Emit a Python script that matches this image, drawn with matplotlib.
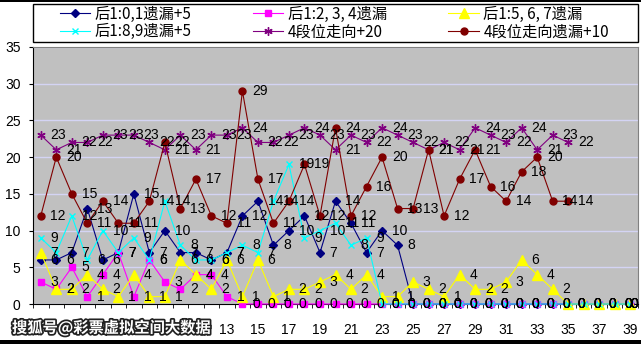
import matplotlib
matplotlib.use('Agg')
import matplotlib.pyplot as plt
import matplotlib.patches as mpatches
import matplotlib.patheffects as pe
import numpy as np

plt.rcParams['font.family'] = ['Liberation Sans', 'Noto Sans CJK SC', 'DejaVu Sans']

# periods 1..39 (labels 1-11 are hidden under the watermark)
periods = list(range(1, 40))
tick_pos = list(range(13, 40, 2))
tick_labels = [str(p) for p in tick_pos]

# series values
s_01 = [6, 6, 7, 13, 6, 7, 15, 7, 10, 7, 7, 6, 7, 12, 14, 8, 10, 12, 7, 14,
        11, 7, 10, 8] + [0] * 15
s_234 = [3, 2, 5, 1, 4, 7, 1, 6, 3, 2, 4, 4, 1] + [0] * 26
s_567 = [7, 2, 2, 4, 2, 1, 4, 1, 1, 6, 4, 2, 6, 1, 6, 1, 2, 2, 3, 4,
         2, 4, 1, 1, 3, 2, 1, 4, 2, 2, 3, 6, 4, 2] + [0] * 5
s_89 = [9, 7, 12, 6, 10, 7, 9, 6, 14, 8, 6, 6, 7, 8, 7, 14, 19, 9, 10, 11,
        8, 9] + [0] * 17
s_dir = [23, 21, 22, 22, 23, 23, 23, 22, 21, 23, 21, 23, 23, 24, 22, 22, 23, 24,
         23, 21, 23, 22, 24, 23, 22, 21, 22, 21, 24, 23, 22, 24, 21, 23, 22]
s_dir_miss = [12, 20, 15, 11, 14, 11, 11, 14, 22, 13, 17, 12, 11, 29, 17, 11, 14,
              19, 12, 24, 12, 16, 20, 13, 13, 21, 12, 17, 21, 16, 14, 18, 20, 14, 14]

names = ['后1:0,1遗漏+5', '后1:2, 3, 4遗漏', '后1:5, 6, 7遗漏',
         '后1:8,9遗漏+5', '4段位走向+20', '4段位走向遗漏+10']

fig = plt.figure(figsize=(6.41, 3.44), dpi=100)
ax = fig.add_axes([33 / 641, 40 / 344, 605 / 641, 257 / 344])
ax.set_facecolor('#c0c0c0')

styles = [
    dict(color='#000080', marker='D', ms=4.5),
    dict(color='#ff00ff', marker='s', ms=5),
    dict(color='#ffff00', marker='^', ms=6.5),
    dict(color='#00ffff', marker='x', ms=5, mew=1),
    dict(color='#800080', marker=(6, 2, 0), ms=6, mew=1),
    dict(color='#800000', marker='o', ms=5),
]
all_series = [s_01, s_234, s_567, s_89, s_dir, s_dir_miss]

handles = []
for vals, st in zip(all_series, styles):
    x = periods[:len(vals)]
    h, = ax.plot(x, vals, lw=0.8, clip_on=False, zorder=3, **st)
    handles.append(h)

# data labels to the right of each point (last one pulled inside the chart)
for vals in all_series:
    for xi, v in zip(periods, vals):
        dx = 0 if xi == periods[-1] else 7
        ax.annotate(str(v), (xi, v), xytext=(dx, 0), textcoords='offset points',
                    ha='left', va='center', fontsize=10, color='black', zorder=5,
                    annotation_clip=False)

ax.set_xlim(0.5, 39.5)
ax.set_ylim(0, 35)
ax.set_yticks(np.arange(0, 36, 5))
ax.yaxis.grid(True, color='#d4d4f4', lw=1)
ax.set_axisbelow(True)
ax.set_xticks(tick_pos)
ax.set_xticklabels(tick_labels)
ax.set_xticks(np.arange(0.5, 40, 1), minor=True)
ax.tick_params(axis='x', which='major', length=0, pad=14, labelsize=10)
ax.tick_params(axis='x', which='minor', length=3, direction='out')
ax.tick_params(axis='y', length=3, direction='out', pad=6, labelsize=10)
for side in ['left', 'bottom']:
    ax.spines[side].set_color('black')
for side in ['top', 'right']:
    ax.spines[side].set_color('#808080')

# legend box, entries laid out row by row like the original
fig.add_artist(mpatches.Rectangle((33 / 641, 1 - 42 / 344), 605 / 641, 38 / 344,
                                  transform=fig.transFigure, facecolor='white',
                                  edgecolor='black', lw=1, zorder=1))
order = [0, 3, 1, 4, 2, 5]
fig.legend([handles[i] for i in order], [names[i] for i in order], ncol=3,
           loc='center left', bbox_to_anchor=(52 / 641, 1 - 23 / 344),
           frameon=False, prop={'family': ['Noto Sans CJK SC'], 'size': 11},
           handlelength=2.0, handletextpad=0.3, labelspacing=0.05,
           columnspacing=4.0, borderpad=0)

# watermark
fig.text(12 / 641, 1 - 328 / 344, '搜狐号@彩票虚拟空间大数据', fontsize=11,
         fontweight='bold', color='white', va='center', ha='left',
         family=['Noto Sans CJK SC'],
         path_effects=[pe.withStroke(linewidth=2.5, foreground='#222222')])

# black frame strips top/bottom
fig.add_artist(mpatches.Rectangle((0, 0), 1, 4 / 344, transform=fig.transFigure,
                                  facecolor='black', edgecolor='none'))
fig.add_artist(mpatches.Rectangle((0, 1 - 1.5 / 344), 1, 1.5 / 344,
                                  transform=fig.transFigure,
                                  facecolor='black', edgecolor='none'))

fig.savefig('out.png', dpi=100)
